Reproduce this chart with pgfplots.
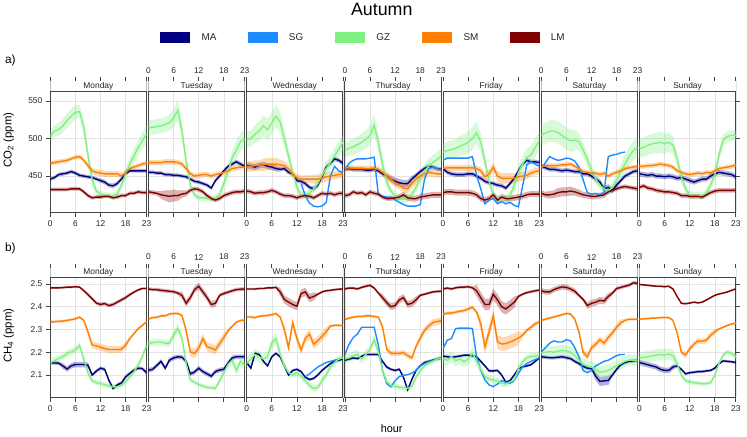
\documentclass[border=0pt]{standalone}
\usepackage{fontspec}
\setmainfont{Liberation Sans}
\usepackage{pgfplots}
\usepackage{pgfplotstable}
\pgfplotsset{compat=1.18}
\usepgfplotslibrary{fillbetween}

\definecolor{cMA}{HTML}{000080}
\definecolor{cSG}{HTML}{1A8CFF}
\definecolor{cGZ}{HTML}{80F080}
\definecolor{cSM}{HTML}{FF8000}
\definecolor{cLM}{HTML}{800000}
\definecolor{cFrame}{HTML}{444444}
\definecolor{cStrip}{HTML}{FFFFFF}

\newcommand{\ticktxt}{\fontsize{8.5}{10}\selectfont}
\newcommand{\striptxt}{\fontsize{8.5}{10}\selectfont}

% ---------------- CO2 (ppm), hourly means and half-widths ----------------
\pgfplotstableread{
h MA MAe GZ GZe SM SMe LM LMe
0 446 2.5 503 8 467 3 432 2.5
1 448 2.5 510 8 468 3 432 2.5
2 452 2.5 512 9 469 3 432 2.5
3 453 2.5 517 9 470 3 432 2.5
4 454 2.5 524 10 471 3 432 2.5
5 456 2.5 530 10 473 3 433 2.5
6 454 2.5 535 9 475 3 433 2.5
7 451 2.5 536 9 476 3 433 2.5
8 450 2.5 515 10 471 3 429 2.5
9 449 2.5 478 10 464 4 424 2.5
10 448 2.5 445 8 457 4 421 2.5
11 446 2.5 430 5 455 4 422 2.5
12 444 3 426 4 454 4 422 2.5
13 442 3 425 4 453 4 423 2.5
14 438 3 424 4 453 4 423 2.5
15 437 3 424 4 453 4 421 2.5
16 440 3 426 5 453 4 422 2.5
17 446 2.5 438 6 450 4 424 2.5
18 453 2.5 453 8 455 3 424 2.5
19 457 2.5 466 9 460 3 427 2.5
20 457 2.5 477 10 462 3 427 2.5
21 457 2.5 488 10 464 3 429 2.5
22 457 2.5 497 11 466 3 428 2.5
23 457 2.5 506 12 467 3 428 2.5
}\coMon
\pgfplotstableread{
h MA MAe GZ GZe SM SMe LM LMe
0 455 2.5 514 10 468 3.5 429 3
1 455 2.5 515 10 468 3.5 428 3
2 454 2.5 516 10 468 3.5 427 3
3 454 2.5 517 10 468 3.5 425 5
4 452 2.5 519 10 469 3.5 424 7
5 452 2.5 521 11 469 3.5 423 8
6 451 2.5 527 12 469 3.5 424 8
7 451 2.5 538 14 468 3.5 424 7
8 450 2.5 510 12 466 3.5 426 5
9 449 2.5 470 10 460 3.5 427 4
10 446 2.5 438 6 453 3.5 431 3
11 443 2.5 425 4 450 3.5 433 3
12 442 2.5 421 4 451 3.5 432 3
13 440 2.5 421 4 452 3.5 429 3
14 438 2.5 420 4 452 3.5 424 3
15 434 2.5 420 4 450 3.5 420 3
16 444 2.5 421 4 452 3.5 418 3
17 450 2.5 425 5 453 3.5 420 3
18 457 2.5 440 7 455 3.5 424 3
19 463 2.5 456 9 457 3.5 426 3
20 466 3 474 11 460 3.5 428 3
21 469 3 485 12 461 3.5 429 3
22 466 3 496 12 462 3.5 429 3
23 463 2.5 499 12 462 3.5 430 3
}\coTue
\pgfplotstableread{
h MA MAe GZ GZe SM SMe LM LMe SG
0 464 4 499 10 463 7 430 3 nan
1 463 4 500 11 463 7 429 3 nan
2 462 4 506 12 464 7 427 3 nan
3 464 4 510 13 464 7 428 3 nan
4 465 4 517 14 465 8 428 3 nan
5 463 4 512 14 466 8 429 3 nan
6 462 4 521 15 466 8 431 3 nan
7 460 4 530 15 466 8 429 3 nan
8 459 3 522 14 465 7 426 3 nan
9 460 3 500 12 464 6 424 3 nan
10 455 3 477 10 460 5 424 3 nan
11 453 3 455 8 452 5 423 3 nan
12 444 3 435 6 448 5 421 3 nan
13 443 3 424 5 446 5 423 3 440
14 440 3 424 5 446 5 424 3 424
15 435 3 427 6 446 5 423 3 414
16 433 3 433 6 446 6 421 3 410
17 438 3 440 7 446 6 424 3 409
18 449 3 451 8 447 6 427 3 410
19 462 3 460 9 449 6 426 3 415
20 467 3 468 10 450 6 427 3 450
21 473 3 477 10 451 5 425 3 463
22 471 3 486 10 452 5 427 3 457
23 467 3 495 10 453 5 427 3 454
}\coWed
\pgfplotstableread{
h MA MAe GZ GZe SM SMe LM LMe SG
0 460 3 484 10 461 4 424 3 458
1 460 3 487 10 461 4 425 3 467
2 459 3 489 11 460 4 429 3 471
3 459 3 492 11 460 4 427 3 473
4 459 3 495 12 460 4 428 3 473
5 458 3 499 12 460 4 425 3 473
6 458 3 504 13 460 4 429 3 474
7 459 3 518 14 460 4 427 3 475
8 457 3 495 13 459 4 426 3 425
9 453 3 465 10 455 5 422 3 423
10 450 3 442 8 450 6 420 3 422
11 446 4 430 6 446 6 420 3 422
12 443 5 424 5 441 6 421 3 418
13 441 5 420 5 438 6 422 4 415
14 440 5 419 5 434 6 425 4 412
15 440 5 421 5 433 6 421 4 410
16 446 4 426 6 440 6 420 4 410
17 451 3 435 7 446 6 420 4 410
18 456 3 447 8 450 6 422 4 412
19 460 3 457 9 453 5 423 4 445
20 463 3 463 10 455 5 424 4 460
21 462 3 468 10 454 5 425 4 462
22 460 3 472 10 453 5 425 4 460
23 459 3 476 10 453 5 425 4 458
}\coThu
\pgfplotstableread{
h MA MAe GZ GZe SM SMe LM LMe SG
0 460 3 482 12 460 4 428 4 471
1 455 3 484 12 461 4 429 4 474
2 453 3 485 12 461 4 429 4 474
3 452 3 487 13 461 4 428 4 474
4 452 3 490 13 461 4 428 4 474
5 452 3 492 14 461 4 428 4 474
6 453 3 495 15 461 4 428 4 474
7 453 3 500 15 461 4 427 4 476
8 450 3 508 15 460 4 425 4 451
9 447 3 495 13 457 5 420 4 433
10 443 3 470 10 449 6 418 4 413
11 441 3 443 7 453 6 420 4 418
12 440 3 424 5 462 6 425 4 420
13 438 3 420 5 450 7 418 4 413
14 437 3 418 5 447 7 422 4 416
15 434 3 420 5 447 7 420 4 413
16 440 3 424 6 447 7 420 4 415
17 447 3 438 8 447 7 421 4 411
18 457 3 455 10 449 6 422 4 409
19 466 3 466 11 450 6 423 4 437
20 471 3 475 12 451 5 425 4 465
21 469 3 478 12 454 5 426 4 469
22 469 3 488 12 456 5 426 4 466
23 468 3 497 12 457 5 426 4 463
}\coFri
\pgfplotstableread{
h MA MAe GZ GZe SM SMe LM LMe SG
0 463 3 505 14 462 3 427 4 460
1 461 3 507 14 464 3 425 4 468
2 459 3 510 14 464 3 425 5 476
3 459 3 510 15 464 3 426 5 473
4 458 3 508 15 464 3 428 6 471
5 457 3 504 15 465 3 429 6 472
6 458 3 500 15 465 3 429 6 474
7 457 3 497 15 466 3 430 6 473
8 456 3 498 14 463 3 429 5 470
9 456 3 496 12 460 3 427 5 462
10 453 3 485 10 456 3 425 4 445
11 453 3 472 9 455 3 424 4 428
12 450 3 458 8 454 3 423 4 426
13 446 4 446 7 454 3 423 4 427
14 442 4 438 6 452 3 424 4 425
15 433 4 433 6 454 3 425 4 428
16 435 4 430 6 450 3 429 3 476
17 431 4 435 7 453 3 431 3 478
18 438 4 445 9 455 3 433 3 479
19 444 3 456 10 457 3 435 3 481
20 450 3 466 12 460 3 436 3 482
21 453 3 476 13 461 3 435 3 nan
22 456 3 484 13 462 3 434 3 nan
23 457 3 488 13 463 3 433 3 nan
}\coSat
\pgfplotstableread{
h MA MAe GZ GZe SM SMe LM LMe
0 453 3.5 487 12 463 3 435 3
1 452 3.5 488 13 463 3 437 3
2 451 3.5 491 13 464 3 434 3
3 452 3.5 493 13 464 3 433 3
4 450 3.5 494 14 465 3 431 3
5 450 3.5 495 14 466 3 430 3
6 449 3.5 493 14 465 3 429 3
7 450 3.5 495 13 464 3 429 3
8 449 3.5 491 12 462 3 428 3
9 447 3.5 473 10 457 3 427 3
10 448 3.5 449 8 455 3 424 3
11 446 3.5 433 6 453 3 424 3
12 444 3.5 425 5 452 3 423 3
13 442 3.5 424 5 453 3 423 3
14 444 3.5 424 5 454 3 423 3
15 446 3.5 424 5 453 3 422 3
16 446 3.5 428 5 455 3 425 3
17 450 3.5 438 6 454 3 428 3
18 453 3.5 452 8 457 3 430 3
19 455 3.5 478 8 460 3 431 3
20 454 3.5 498 8 461 3 431 3
21 453 3.5 503 7 462 3 431 3
22 452 3.5 504 7 463 3 431 3
23 449 3.5 504 7 465 3 431 3
}\coSun

% ---------------- CH4 (ppm), hourly means and half-widths ----------------
\pgfplotstableread{
h MA MAe GZ GZe SM SMe LM LMe
0 2.154 0.008 2.154 0.015 2.333 0.006 2.483 0.005
1 2.153 0.008 2.162 0.015 2.334 0.006 2.483 0.005
2 2.152 0.008 2.173 0.015 2.336 0.006 2.483 0.005
3 2.140 0.012 2.180 0.015 2.337 0.006 2.484 0.005
4 2.126 0.012 2.195 0.015 2.340 0.006 2.486 0.005
5 2.140 0.012 2.202 0.015 2.343 0.006 2.486 0.005
6 2.146 0.012 2.210 0.015 2.347 0.006 2.488 0.005
7 2.146 0.012 2.230 0.015 2.354 0.006 2.486 0.005
8 2.146 0.012 2.170 0.015 2.340 0.006 2.471 0.005
9 2.143 0.012 2.110 0.015 2.289 0.015 2.453 0.008
10 2.100 0.008 2.075 0.012 2.232 0.015 2.435 0.008
11 2.117 0.008 2.066 0.012 2.228 0.015 2.416 0.008
12 2.130 0.008 2.062 0.012 2.222 0.015 2.410 0.008
13 2.125 0.008 2.058 0.012 2.216 0.015 2.414 0.008
14 2.077 0.008 2.052 0.012 2.212 0.015 2.405 0.008
15 2.041 0.008 2.048 0.012 2.212 0.015 2.410 0.008
16 2.056 0.008 2.048 0.012 2.212 0.015 2.420 0.008
17 2.065 0.008 2.055 0.012 2.213 0.015 2.430 0.008
18 2.092 0.008 2.071 0.012 2.231 0.015 2.440 0.008
19 2.107 0.008 2.093 0.012 2.260 0.008 2.453 0.008
20 2.121 0.008 2.114 0.012 2.282 0.006 2.464 0.005
21 2.130 0.008 2.144 0.012 2.304 0.006 2.474 0.005
22 2.128 0.008 2.180 0.015 2.318 0.006 2.480 0.005
23 2.110 0.008 2.230 0.015 2.333 0.006 2.480 0.005
}\chMon
\pgfplotstableread{
h MA MAe GZ GZe SM SMe LM LMe
0 2.121 0.010 2.238 0.015 2.346 0.006 2.478 0.008
1 2.125 0.010 2.242 0.015 2.352 0.006 2.475 0.008
2 2.142 0.010 2.245 0.015 2.354 0.006 2.475 0.008
3 2.160 0.010 2.245 0.015 2.360 0.006 2.472 0.008
4 2.130 0.010 2.240 0.015 2.360 0.006 2.470 0.008
5 2.165 0.010 2.240 0.015 2.368 0.006 2.468 0.008
6 2.175 0.010 2.275 0.020 2.370 0.006 2.466 0.008
7 2.180 0.010 2.305 0.020 2.370 0.006 2.460 0.008
8 2.178 0.010 2.262 0.020 2.362 0.006 2.450 0.015
9 2.160 0.010 2.150 0.015 2.295 0.020 2.415 0.015
10 2.105 0.010 2.078 0.010 2.202 0.020 2.440 0.015
11 2.113 0.010 2.068 0.010 2.195 0.020 2.475 0.015
12 2.130 0.010 2.058 0.010 2.218 0.020 2.490 0.015
13 2.115 0.010 2.052 0.010 2.260 0.020 2.465 0.015
14 2.105 0.010 2.045 0.010 2.224 0.020 2.440 0.015
15 2.095 0.010 2.044 0.010 2.218 0.020 2.410 0.015
16 2.115 0.010 2.042 0.010 2.210 0.020 2.415 0.015
17 2.122 0.010 2.075 0.012 2.238 0.020 2.450 0.008
18 2.125 0.010 2.110 0.015 2.265 0.020 2.458 0.008
19 2.152 0.010 2.147 0.020 2.293 0.010 2.464 0.008
20 2.175 0.010 2.165 0.020 2.314 0.006 2.470 0.008
21 2.180 0.010 2.120 0.020 2.332 0.006 2.475 0.008
22 2.180 0.010 2.160 0.020 2.340 0.006 2.477 0.008
23 2.180 0.010 2.140 0.020 2.340 0.006 2.478 0.008
}\chTue
\pgfplotstableread{
h MA MAe GZ GZe SM SMe LM LMe SG
0 2.155 0.006 2.150 0.025 2.355 0.006 2.478 0.005 nan
1 2.130 0.006 2.170 0.025 2.355 0.006 2.478 0.005 nan
2 2.195 0.006 2.190 0.025 2.352 0.006 2.478 0.005 nan
3 2.190 0.006 2.180 0.025 2.358 0.006 2.480 0.005 nan
4 2.160 0.006 2.170 0.025 2.360 0.006 2.480 0.005 nan
5 2.140 0.006 2.180 0.025 2.362 0.006 2.483 0.005 nan
6 2.180 0.006 2.240 0.025 2.365 0.006 2.483 0.005 nan
7 2.195 0.006 2.260 0.025 2.370 0.006 2.485 0.005 nan
8 2.180 0.006 2.190 0.025 2.355 0.006 2.465 0.018 nan
9 2.140 0.006 2.140 0.015 2.300 0.020 2.432 0.018 nan
10 2.100 0.006 2.110 0.015 2.220 0.020 2.420 0.018 nan
11 2.120 0.006 2.100 0.015 2.330 0.020 2.410 0.018 nan
12 2.125 0.006 2.110 0.015 2.260 0.020 2.402 0.018 nan
13 2.115 0.006 2.095 0.015 2.210 0.020 2.458 0.018 nan
14 2.090 0.006 2.075 0.015 2.260 0.020 2.465 0.018 2.092
15 2.080 0.006 2.055 0.015 2.280 0.020 2.438 0.018 2.105
16 2.085 0.006 2.040 0.015 2.235 0.020 2.445 0.018 2.120
17 2.100 0.006 2.045 0.015 2.250 0.020 2.455 0.005 2.135
18 2.120 0.006 2.075 0.015 2.270 0.020 2.465 0.005 2.145
19 2.135 0.006 2.100 0.015 2.290 0.020 2.470 0.005 2.155
20 2.150 0.006 2.135 0.015 2.315 0.006 2.472 0.005 2.160
21 2.160 0.006 2.155 0.015 2.318 0.006 2.475 0.005 2.165
22 2.165 0.006 2.170 0.015 2.318 0.006 2.477 0.005 2.170
23 2.170 0.006 2.175 0.015 2.318 0.006 2.478 0.005 2.175
}\chWed
\pgfplotstableread{
h MA MAe GZ GZe SM SMe LM LMe SG
0 2.165 0.006 2.170 0.020 2.344 0.006 2.478 0.006 2.190
1 2.170 0.006 2.175 0.020 2.350 0.006 2.482 0.006 2.235
2 2.175 0.006 2.185 0.020 2.354 0.006 2.482 0.006 2.265
3 2.172 0.006 2.190 0.020 2.357 0.006 2.478 0.006 2.280
4 2.182 0.006 2.170 0.020 2.357 0.006 2.485 0.006 2.310
5 2.190 0.006 2.190 0.020 2.360 0.006 2.490 0.006 2.310
6 2.190 0.006 2.213 0.020 2.360 0.006 2.494 0.006 2.310
7 2.190 0.006 2.255 0.020 2.357 0.006 2.482 0.006 2.310
8 2.190 0.006 2.200 0.020 2.354 0.006 2.460 0.006 2.230
9 2.160 0.006 2.120 0.012 2.310 0.012 2.440 0.015 2.120
10 2.135 0.006 2.070 0.012 2.213 0.012 2.418 0.015 2.062
11 2.125 0.006 2.054 0.012 2.195 0.012 2.400 0.015 2.048
12 2.120 0.006 2.050 0.012 2.195 0.012 2.405 0.015 2.075
13 2.125 0.006 2.046 0.012 2.195 0.012 2.430 0.015 2.093
14 2.090 0.006 2.044 0.012 2.198 0.012 2.440 0.015 2.098
15 2.035 0.006 2.042 0.012 2.185 0.012 2.410 0.015 2.102
16 2.080 0.006 2.050 0.012 2.175 0.012 2.415 0.015 2.108
17 2.120 0.006 2.090 0.012 2.225 0.012 2.430 0.015 2.120
18 2.140 0.006 2.120 0.012 2.262 0.015 2.450 0.006 2.140
19 2.155 0.006 2.140 0.012 2.295 0.015 2.455 0.006 2.150
20 2.160 0.006 2.152 0.012 2.315 0.015 2.460 0.006 2.158
21 2.165 0.006 2.160 0.012 2.330 0.015 2.465 0.006 2.163
22 2.170 0.006 2.170 0.012 2.335 0.015 2.467 0.006 2.170
23 2.175 0.006 2.175 0.012 2.338 0.015 2.468 0.006 2.173
}\chThu
\pgfplotstableread{
h MA MAe GZ GZe SM SMe LM LMe SG
0 2.183 0.006 2.173 0.025 2.366 0.008 2.478 0.006 2.216
1 2.180 0.006 2.165 0.025 2.372 0.008 2.482 0.006 2.253
2 2.178 0.006 2.180 0.025 2.372 0.008 2.478 0.006 2.260
3 2.180 0.006 2.163 0.025 2.376 0.008 2.483 0.006 2.304
4 2.183 0.006 2.170 0.025 2.380 0.008 2.486 0.006 2.306
5 2.187 0.006 2.158 0.025 2.383 0.008 2.486 0.006 2.306
6 2.187 0.006 2.170 0.025 2.390 0.008 2.488 0.006 2.306
7 2.184 0.006 2.195 0.025 2.398 0.008 2.483 0.006 2.304
8 2.180 0.006 2.162 0.025 2.376 0.008 2.470 0.025 2.180
9 2.160 0.006 2.125 0.025 2.325 0.030 2.440 0.025 2.122
10 2.140 0.006 2.093 0.015 2.224 0.030 2.410 0.025 2.078
11 2.118 0.006 2.082 0.015 2.290 0.030 2.410 0.025 2.056
12 2.118 0.006 2.078 0.015 2.360 0.030 2.455 0.025 2.049
13 2.120 0.006 2.075 0.015 2.245 0.030 2.430 0.025 2.060
14 2.100 0.006 2.064 0.015 2.236 0.030 2.400 0.025 2.075
15 2.068 0.006 2.060 0.015 2.238 0.030 2.390 0.025 2.068
16 2.075 0.006 2.070 0.015 2.245 0.030 2.405 0.025 2.064
17 2.100 0.006 2.078 0.015 2.253 0.030 2.420 0.025 2.075
18 2.128 0.006 2.128 0.015 2.262 0.030 2.445 0.006 2.107
19 2.136 0.006 2.158 0.015 2.275 0.010 2.455 0.006 2.136
20 2.140 0.006 2.175 0.015 2.296 0.010 2.462 0.006 2.150
21 2.145 0.006 2.182 0.015 2.310 0.010 2.466 0.006 2.160
22 2.160 0.006 2.182 0.015 2.325 0.010 2.470 0.006 2.168
23 2.175 0.006 2.185 0.015 2.333 0.010 2.473 0.006 2.175
}\chFri
\pgfplotstableread{
h MA MAe GZ GZe SM SMe LM LMe SG
0 2.180 0.008 2.197 0.025 2.340 0.006 2.470 0.012 2.200
1 2.178 0.008 2.200 0.025 2.345 0.006 2.465 0.012 2.220
2 2.176 0.008 2.204 0.025 2.350 0.006 2.465 0.012 2.240
3 2.176 0.008 2.200 0.025 2.355 0.006 2.475 0.012 2.250
4 2.178 0.008 2.205 0.025 2.360 0.006 2.482 0.012 2.245
5 2.180 0.008 2.208 0.025 2.365 0.006 2.487 0.012 2.245
6 2.176 0.008 2.205 0.025 2.370 0.006 2.485 0.012 2.255
7 2.172 0.008 2.200 0.025 2.368 0.006 2.478 0.012 2.250
8 2.160 0.008 2.185 0.025 2.345 0.006 2.468 0.012 2.220
9 2.150 0.008 2.165 0.025 2.290 0.015 2.450 0.008 2.180
10 2.138 0.008 2.148 0.025 2.200 0.015 2.432 0.008 2.120
11 2.130 0.008 2.140 0.025 2.180 0.015 2.405 0.015 2.110
12 2.128 0.008 2.135 0.025 2.220 0.015 2.415 0.015 2.120
13 2.095 0.020 2.125 0.025 2.235 0.015 2.420 0.015 2.140
14 2.072 0.020 2.112 0.025 2.255 0.015 2.428 0.015 2.150
15 2.074 0.020 2.115 0.025 2.240 0.015 2.425 0.015 2.160
16 2.076 0.020 2.120 0.025 2.265 0.015 2.445 0.015 2.165
17 2.100 0.008 2.130 0.025 2.285 0.015 2.460 0.008 2.175
18 2.125 0.008 2.140 0.025 2.310 0.015 2.480 0.008 2.185
19 2.145 0.008 2.150 0.025 2.330 0.015 2.485 0.008 2.190
20 2.155 0.008 2.160 0.025 2.340 0.006 2.490 0.008 2.190
21 2.160 0.008 2.165 0.025 2.345 0.006 2.495 0.008 nan
22 2.162 0.008 2.165 0.025 2.345 0.006 2.505 0.008 nan
23 2.164 0.008 2.165 0.025 2.345 0.006 2.503 0.008 nan
}\chSat
\pgfplotstableread{
h MA MAe GZ GZe SM SMe LM LMe
0 2.155 0.012 2.175 0.025 2.345 0.005 2.498 0.004
1 2.150 0.012 2.178 0.025 2.347 0.005 2.496 0.004
2 2.145 0.012 2.180 0.025 2.348 0.005 2.494 0.004
3 2.140 0.012 2.185 0.025 2.350 0.005 2.492 0.004
4 2.135 0.012 2.187 0.025 2.350 0.005 2.490 0.004
5 2.125 0.012 2.190 0.025 2.352 0.005 2.490 0.004
6 2.120 0.012 2.188 0.025 2.353 0.005 2.488 0.004
7 2.120 0.012 2.192 0.025 2.352 0.005 2.490 0.004
8 2.135 0.012 2.185 0.025 2.340 0.005 2.478 0.004
9 2.140 0.006 2.150 0.025 2.285 0.005 2.445 0.004
10 2.125 0.006 2.100 0.010 2.200 0.012 2.415 0.004
11 2.105 0.006 2.075 0.010 2.188 0.012 2.413 0.004
12 2.110 0.006 2.070 0.010 2.215 0.012 2.416 0.004
13 2.112 0.006 2.066 0.010 2.235 0.012 2.420 0.004
14 2.115 0.006 2.064 0.010 2.250 0.012 2.417 0.004
15 2.115 0.006 2.062 0.010 2.248 0.012 2.420 0.004
16 2.118 0.006 2.062 0.010 2.253 0.012 2.430 0.004
17 2.120 0.006 2.066 0.010 2.275 0.012 2.440 0.004
18 2.130 0.006 2.100 0.010 2.290 0.012 2.450 0.004
19 2.150 0.006 2.151 0.010 2.302 0.005 2.456 0.004
20 2.162 0.006 2.187 0.010 2.310 0.005 2.460 0.004
21 2.160 0.006 2.202 0.010 2.318 0.005 2.465 0.004
22 2.158 0.006 2.195 0.010 2.324 0.005 2.472 0.004
23 2.155 0.006 2.180 0.010 2.328 0.005 2.478 0.004
}\chSun

% ---------------- panel styles ----------------
\pgfplotsset{
  lat/.style={
    scale only axis, width=97bp, anchor=south west,
    xmin=0, xmax=23, xtick={0,6,12,18,23},
    axis line style={cFrame, line width=1bp},
    tick align=outside, major tick length=4.5bp,
    every tick/.style={cFrame, line width=0.7bp},
    grid=major, major grid style={black!11, line width=0.5bp},
    tick label style={font=\ticktxt, text=black!85},
    /pgf/number format/assume math mode=true,
    xtick pos=both,
  },
  rowA/.style={height=132.3bp, ymin=401.5, ymax=576.5, ytick={450,500,550}},
  rowB/.style={height=130.7bp, ymin=2.0, ymax=2.570, ytick={2.1,2.2,2.3,2.4,2.5},
    yticklabel style={/pgf/number format/.cd, fixed, precision=1, fixed zerofill}},
  bot/.style={xticklabel pos=left},
  top/.style={xticklabel pos=right},
  firstcol/.style={ytick pos=left, yticklabel pos=left},
  midcol/.style={ytick pos=left, ytick style={draw=none}, yticklabels={}},
  lastcol/.style={ytick pos=right, yticklabels={}},
}

\newcommand{\band}[3]{%
  \addplot[draw=none, name path=up#2, forget plot] table[x=h, y expr=\thisrow{#2}+\thisrow{#2e}] {#1};
  \addplot[draw=none, name path=lo#2, forget plot] table[x=h, y expr=\thisrow{#2}-\thisrow{#2e}] {#1};
  \addplot[fill=#3, fill opacity=0.3, draw=none, forget plot] fill between[of=up#2 and lo#2];
}
\newcommand{\curve}[3]{%
  \addplot[#3, line width=1.4bp, forget plot] table[x=h, y=#2] {#1};
}
\newcommand{\stripbox}[1]{%
  \fill[cStrip] (rel axis cs:0,\sfrac) rectangle (rel axis cs:1,1);
  \node[font=\striptxt, text=black!85, inner sep=0pt] at (rel axis cs:0.5,\smid) {#1};
  \draw[cFrame, line width=1bp] (rel axis cs:0,\sfrac) -- (rel axis cs:1,\sfrac);
}
% #1 left edge, #2 bottom edge, #3 options, #4 table, #5 day, #6 with SG line
\newcommand{\panel}[6]{%
  \begin{axis}[lat, at={(#1bp,-#2bp)}, #3]
    \band{#4}{MA}{cMA}
    \band{#4}{GZ}{cGZ}
    \band{#4}{SM}{cSM}
    \band{#4}{LM}{cLM}
    \curve{#4}{MA}{cMA}
    \ifnum#6=1 \curve{#4}{SG}{cSG}\fi
    \curve{#4}{GZ}{cGZ}
    \curve{#4}{SM}{cSM}
    \curve{#4}{LM}{cLM}
    \stripbox{#5}
  \end{axis}%
}

\begin{document}
\begin{tikzpicture}
% title and legend
\node[font=\fontsize{18}{20}\selectfont] at (384bp,-9.5bp) {Autumn};
\foreach \c/\n [count=\i from 0] in {cMA/MA,cSG/SG,cGZ/GZ,cSM/SM,cLM/LM}{
  \fill[\c] ({161bp+88bp*\i},-32bp) rectangle ({191bp+88bp*\i},-43bp);
  \node[anchor=west, font=\fontsize{10}{12}\selectfont, text=black!85] at ({199bp+88bp*\i},-37.5bp) {\n};
}

% row a: CO2
\def\sfrac{0.92171}\def\smid{0.96086}
\panel{50}{214}{rowA,bot,firstcol}{\coMon}{Monday}{0}
\panel{148.95}{214}{rowA,top,midcol}{\coTue}{Tuesday}{0}
\panel{247.9}{214}{rowA,bot,midcol}{\coWed}{Wednesday}{1}
\panel{346.85}{214}{rowA,top,midcol}{\coThu}{Thursday}{1}
\panel{445.8}{214}{rowA,bot,midcol}{\coFri}{Friday}{1}
\panel{544.75}{214}{rowA,top,midcol}{\coSat}{Saturday}{1}
\panel{643.7}{214}{rowA,bot,lastcol}{\coSun}{Sunday}{0}

% row b: CH4
\def\sfrac{0.92807}\def\smid{0.96404}
\panel{50}{400.7}{rowB,bot,firstcol}{\chMon}{Monday}{0}
\panel{148.95}{400.7}{rowB,top,midcol}{\chTue}{Tuesday}{0}
\panel{247.9}{400.7}{rowB,bot,midcol}{\chWed}{Wednesday}{1}
\panel{346.85}{400.7}{rowB,top,midcol}{\chThu}{Thursday}{1}
\panel{445.8}{400.7}{rowB,bot,midcol}{\chFri}{Friday}{1}
\panel{544.75}{400.7}{rowB,top,midcol}{\chSat}{Saturday}{1}
\panel{643.7}{400.7}{rowB,bot,lastcol}{\chSun}{Sunday}{0}

% panel tags and axis titles
\node[anchor=west, font=\fontsize{12}{14}\selectfont] at (1bp,-61bp) {a)};
\node[anchor=west, font=\fontsize{12}{14}\selectfont] at (1bp,-250bp) {b)};
\node[rotate=90, font=\fontsize{11.5}{13}\selectfont] at (8bp,-141bp) {CO\textsubscript{2} (ppm)};
\node[rotate=90, font=\fontsize{11.5}{13}\selectfont] at (8bp,-338bp) {CH\textsubscript{4} (ppm)};
\node[font=\fontsize{11}{13}\selectfont] at (394bp,-432bp) {hour};

% page extent
\path (0,0) rectangle (747bp,-438bp);
\end{tikzpicture}
\end{document}
